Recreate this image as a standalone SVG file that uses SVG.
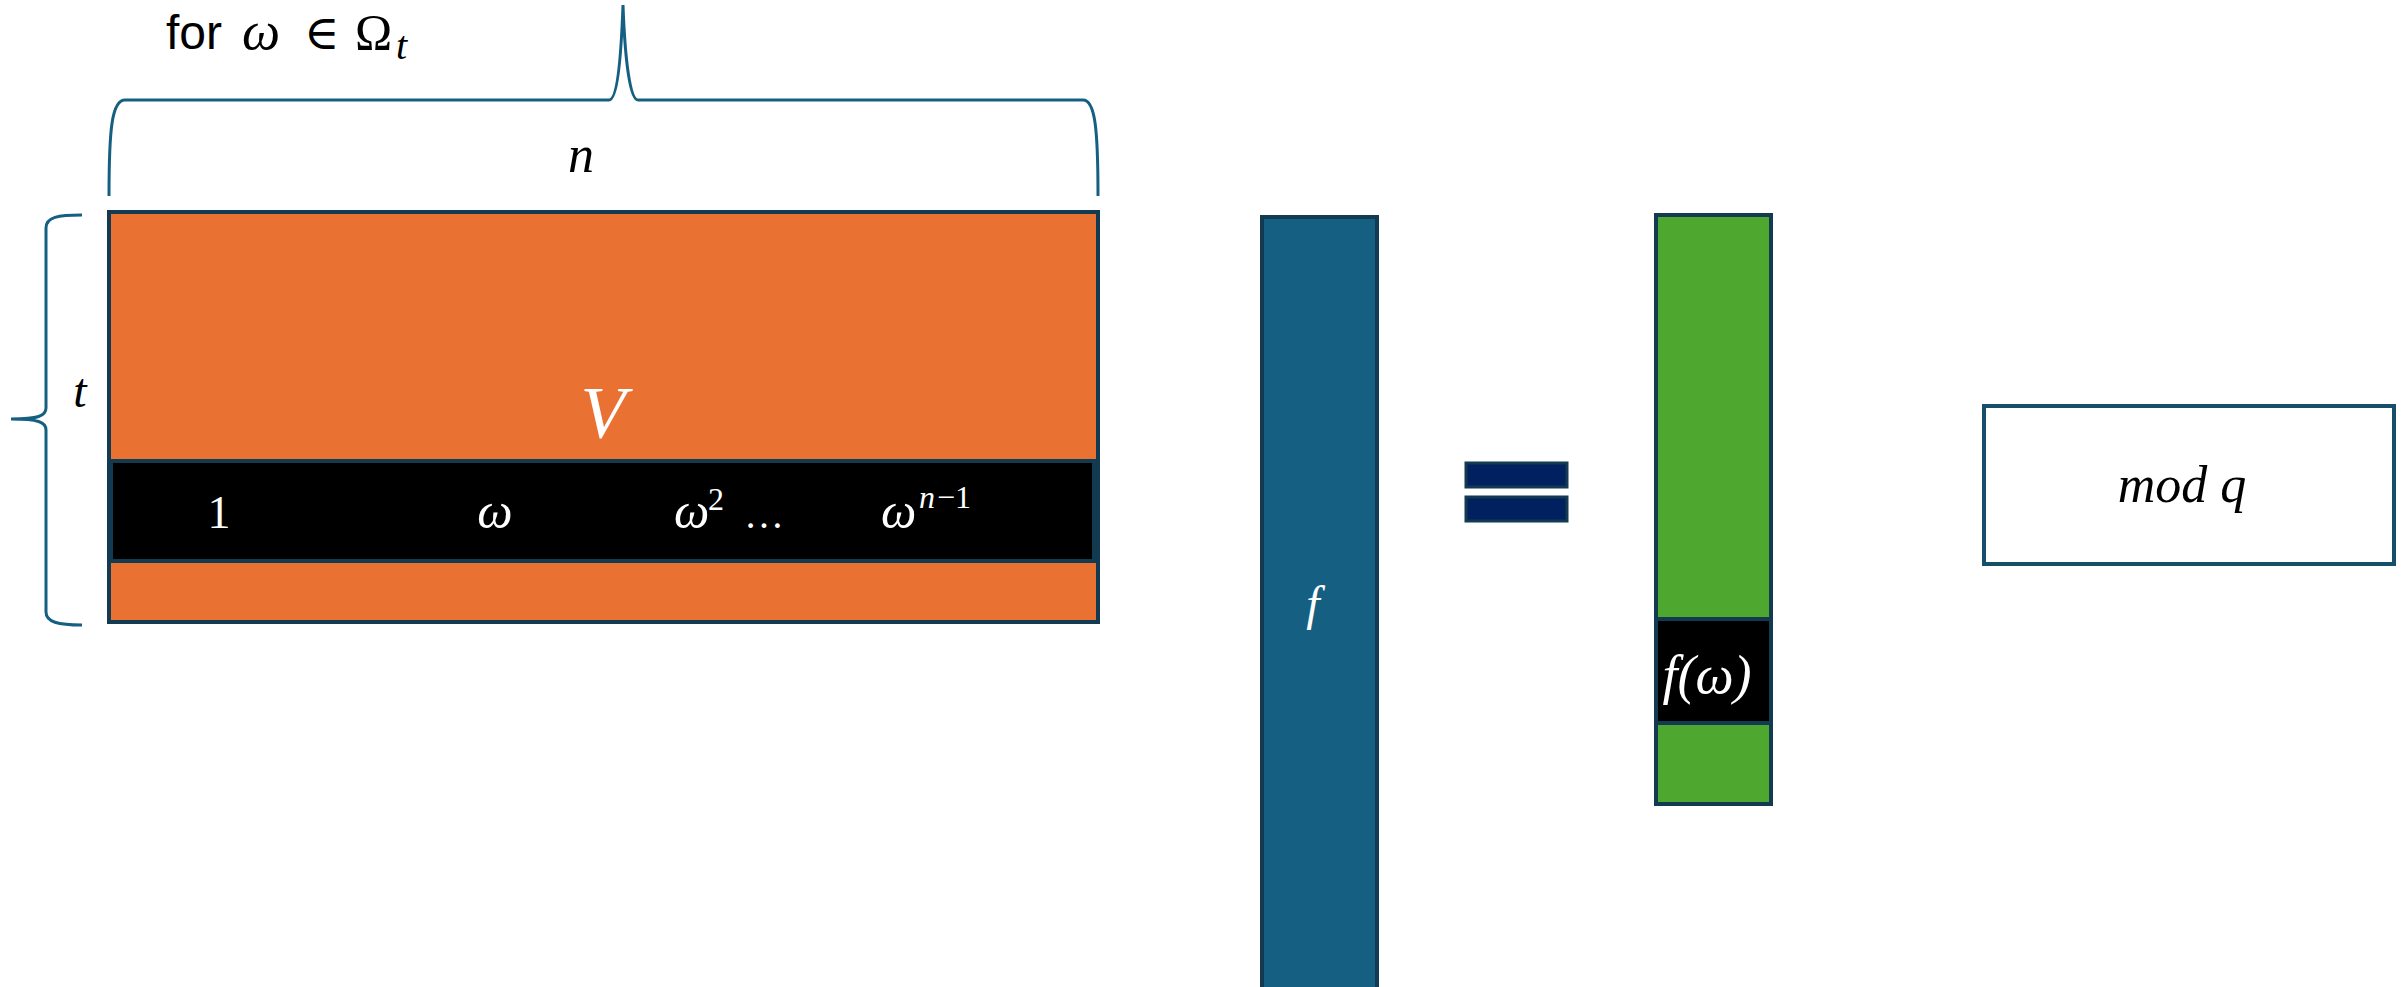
<svg xmlns="http://www.w3.org/2000/svg" width="2404" height="987" viewBox="0 0 2404 987">
<style>
.box{stroke:#123a50;stroke-width:4}
.brace{fill:none;stroke:#156082;stroke-width:3}
.m{font-family:"Liberation Serif","DejaVu Serif",serif;font-style:italic}
.r{font-family:"Liberation Serif","DejaVu Serif",serif}
.w{fill:#ffffff}
.k{fill:#000000}
</style>
<rect width="2404" height="987" fill="#ffffff"/>
<g id="braces">
<path class="brace" d="M109,196 C109,128 112,100 125,100 L609,100 C617,100 621,60 623,5 C625,60 630,100 638,100 L1083,100 C1095,100 1098,128 1098,196"/>
<path class="brace" d="M82,215 C58,215 46,217 46,228 L46,408 C46,416 38,419 11,419 C38,419 46,422 46,430 L46,612 C46,622 58,625 82,625"/>
</g>
<g id="label-for">
<text x="166" y="49" font-family="Liberation Sans, Arial, sans-serif" font-size="48" class="k">for</text>
<text x="242" y="49" class="m k" font-size="54">ω</text>
<text x="304" y="49" class="r k" font-size="48">∈</text>
<text x="355" y="49" class="r k" font-size="50">Ω</text>
<text x="396" y="59" class="m k" font-size="40">t</text>
</g>
<g id="label-n"><text x="581" y="172" class="m k" font-size="52" text-anchor="middle">n</text></g>
<g id="label-t"><text x="80" y="407" class="m k" font-size="48" text-anchor="middle">t</text></g>
<g id="matrix-V">
<rect class="box" x="109" y="212" width="989" height="410" fill="#E97132"/>
<rect class="box" x="111" y="461" width="983" height="100" fill="#000000"/>
<text x="603" y="438" class="m w" font-size="74" text-anchor="middle">V</text>
<text x="219" y="528" class="r w" font-size="46" text-anchor="middle">1</text>
<text x="495" y="528" class="m w" font-size="50" text-anchor="middle">ω</text>
<text x="674" y="528" class="m w" font-size="50">ω</text>
<text x="708" y="510" class="r w" font-size="32">2</text>
<text x="744" y="528" class="r w" font-size="40">…</text>
<text x="881" y="528" class="m w" font-size="50">ω</text>
<text x="919" y="508" class="m w" font-size="32">n</text>
<text x="937" y="508" class="r w" font-size="32">−1</text>
</g>
<g id="vector-f">
<rect class="box" x="1262" y="217" width="115" height="772" fill="#156082"/>
<text x="1313" y="620" class="m w" font-size="48" text-anchor="middle">f</text>
</g>
<g id="equals">
<rect x="1466" y="463" width="101" height="24" fill="#002060" stroke="#123a50" stroke-width="3"/>
<rect x="1466" y="497" width="101" height="24" fill="#002060" stroke="#123a50" stroke-width="3"/>
</g>
<g id="vector-result">
<rect class="box" x="1656" y="215" width="115" height="589" fill="#4EA72E"/>
<rect class="box" x="1656" y="619" width="115" height="104" fill="#000000"/>
<text x="1707" y="693" class="m w" font-size="54" text-anchor="middle">f(ω)</text>
</g>
<g id="mod-q">
<rect x="1984" y="406" width="410" height="158" fill="#ffffff" stroke="#174f6a" stroke-width="4"/>
<text x="2182" y="502" class="m k" font-size="52" text-anchor="middle">mod q</text>
</g>
</svg>
